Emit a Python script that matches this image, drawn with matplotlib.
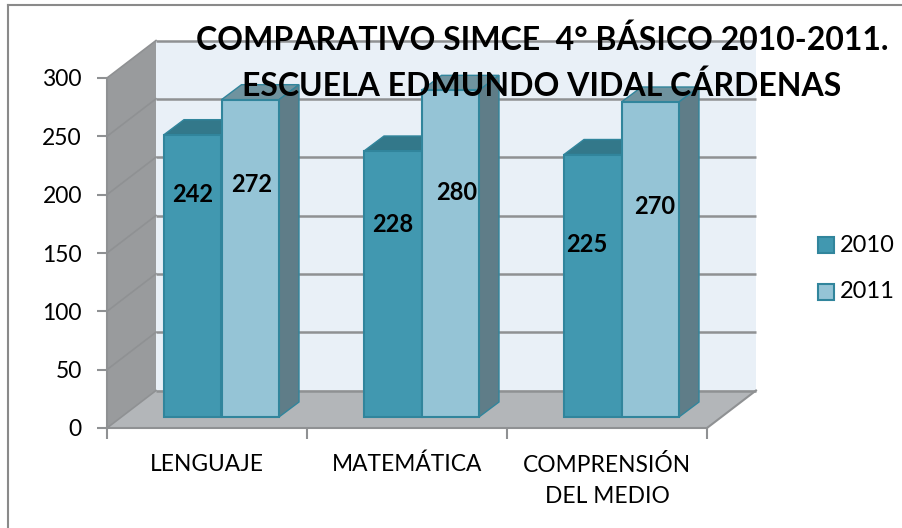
import matplotlib
matplotlib.use('Agg')
import matplotlib.pyplot as plt
from matplotlib.lines import Line2D
from matplotlib.patches import Polygon, Rectangle

categories = ['LENGUAJE', 'MATEMÁTICA', 'COMPRENSIÓN\nDEL MEDIO']
series_names = ['2010', '2011']
values_2010 = [242, 228, 225]
values_2011 = [272, 280, 270]
yticks = [0, 50, 100, 150, 200, 250, 300]
title = 'COMPARATIVO SIMCE  4° BÁSICO 2010-2011.\nESCUELA EDMUNDO VIDAL CÁRDENAS'

plt.rcParams['font.family'] = ['Lato', 'DejaVu Sans']

W, H = 903, 528
fig = plt.figure(figsize=(W / 100, H / 100), dpi=100)
# front plane of the fake 3d box, in pixels 107-707 and 428-78
ax = fig.add_axes([107 / W, 1 - 428 / H, 600 / W, 350 / H])
ax.set_xlim(0, 3)
ax.set_ylim(0, 300)

px = 3 / 600
py = 300 / 350
wall_dx, wall_dy = 49 * px, 37.5 * py
bar_dx, bar_dy = 20 * px, 15 * py
shift_x, shift_y = 15 * px, 11 * py
bar_w = 57.5 * px
bar_start = 42 * px

grid = '#8f9193'


def poly(pts, fc, ec='none', lw=0, z=1):
    ax.add_patch(Polygon(pts, closed=True, facecolor=fc, edgecolor=ec,
                         linewidth=lw, zorder=z, clip_on=False))


# walls and floor
poly([(wall_dx, wall_dy), (3 + wall_dx, wall_dy), (3 + wall_dx, 300 + wall_dy), (wall_dx, 300 + wall_dy)], '#e9f0f7')
poly([(0, 0), (wall_dx, wall_dy), (wall_dx, 300 + wall_dy), (0, 300)], '#999b9d')
poly([(0, 0), (3, 0), (3 + wall_dx, wall_dy), (wall_dx, wall_dy)], '#b3b6b9')

for v in yticks:
    ax.plot([0, wall_dx], [v, v + wall_dy], color=grid, lw=1.2, zorder=2, clip_on=False)
    ax.plot([wall_dx, 3 + wall_dx], [v + wall_dy, v + wall_dy], color=grid, lw=1.8, zorder=2, clip_on=False,
            solid_capstyle='butt')
ax.plot([3, 3 + wall_dx], [0, wall_dy], color=grid, lw=1.5, zorder=2, clip_on=False)

# bars
colors = [('#4198b0', '#33788a', '#3a8aa0'), ('#95c4d6', '#6f939f', '#5f7d88')]
edge = '#31859c'
series = [values_2010, values_2011]
for s, vals in enumerate(series):
    face, top, side = colors[s]
    for i, v in enumerate(vals):
        x0 = i + bar_start + shift_x + s * bar_w
        y0 = shift_y
        x1 = x0 + bar_w
        y1 = y0 + v
        poly([(x0, y1), (x1, y1), (x1 + bar_dx, y1 + bar_dy), (x0 + bar_dx, y1 + bar_dy)], top, edge, 1, 3 + s)
        poly([(x1, y0), (x1 + bar_dx, y0 + bar_dy), (x1 + bar_dx, y1 + bar_dy), (x1, y1)], side, edge, 1, 3 + s)
        ax.bar(x0, v, width=bar_w, bottom=y0, align='edge', color=face, edgecolor=edge,
               linewidth=1.5, zorder=3 + s, clip_on=False)

# value labels, placed by hand like in the original
label_y = [[200, 209], [174, 202], [157, 190]]
label_dx = [[0, 0.005], [0, 0.03], [-0.03, 0.02]]
for i in range(3):
    for s, vals in enumerate(series):
        x0 = i + bar_start + shift_x + s * bar_w
        ax.text(x0 + bar_w / 2 + label_dx[i][s], label_y[i][s], str(vals[i]), ha='center', va='center',
                fontsize=17, fontweight='bold', color='black', zorder=6)

ax.set_yticks(yticks)
ax.set_xticks([0, 1, 2, 3])
ax.set_xticklabels([])
ax.tick_params(axis='y', length=7, width=1.5, color=grid, labelsize=16.5, pad=11)
ax.tick_params(axis='x', length=8, width=1.5, color=grid)
for sp in ['top', 'right']:
    ax.spines[sp].set_visible(False)
for sp in ['left', 'bottom']:
    ax.spines[sp].set_color(grid)
    ax.spines[sp].set_linewidth(1.5)
    ax.spines[sp].set_zorder(7)
ax.patch.set_visible(False)

for i, c in enumerate(categories):
    ax.text(i + 0.5, -22, c, ha='center', va='top', fontsize=16.4, linespacing=1.63,
            color='black', clip_on=False)

fig.text(542 / W, 1 - 63 / H, title, ha='center', va='center', fontsize=23, fontweight='bold',
         linespacing=1.61, color='black', zorder=10)

# legend
for y, name, col in zip([245, 292], series_names, ['#4198b0', '#95c4d6']):
    fig.patches.append(Rectangle((818 / W, 1 - (y + 8) / H), 16 / W, 16 / H, transform=fig.transFigure,
                                 facecolor=col, edgecolor=edge, linewidth=1.5))
    fig.text(840 / W, 1 - y / H, name, ha='left', va='center', fontsize=17, color='black')

# frame, only left and top show in the original
fig.add_artist(Line2D([7.5 / W, 7.5 / W], [0, 1 - 5 / H], color='#8a8a8a', lw=1.5))
fig.add_artist(Line2D([7.5 / W, 1], [1 - 5 / H, 1 - 5 / H], color='#8a8a8a', lw=1.5))

fig.savefig('out.png', dpi=100)
